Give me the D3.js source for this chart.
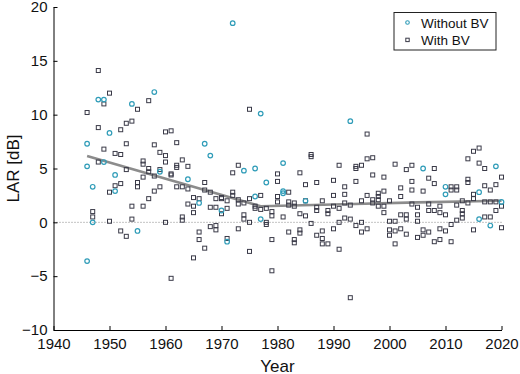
<!DOCTYPE html>
<html><head><meta charset="utf-8">
<script src="https://cdn.jsdelivr.net/npm/d3@7"></script>
<style>body{margin:0;background:#fff}svg{display:block}text{font-family:Helvetica,Arial,"Liberation Sans",sans-serif}</style>
</head><body><svg id="c" width="520" height="374"></svg>
<script>
// Without BV (circles)
const woYears = [1946,1946,1946,1947,1947,1948,1949,1949,1950,1951,1951,1954,1955,1958,1959,1964,1966,1967,1968,1970,1971,1972,1974,1976,1976,1977,1977,1978,1981,1981,1981,1985,1993,2006,2010,2010,2016,2016,2018,2019,2020];
const woValues = [7.3,5.2,-3.6,3.3,0.0,11.4,11.4,5.6,8.3,4.4,2.9,11.0,-0.8,12.1,4.7,4.0,1.8,7.3,6.2,1.1,-1.8,18.5,4.8,5.0,2.4,10.1,0.3,3.7,5.5,2.9,2.7,2.0,9.4,5.0,3.3,2.6,2.8,0.3,-0.3,5.2,1.9];
// With BV (squares)
const wYears = [1946,1947,1947,1948,1948,1948,1949,1949,1950,1950,1950,1951,1951,1952,1952,1952,1952,1953,1953,1953,1953,1954,1954,1954,1955,1955,1955,1956,1956,1956,1956,1957,1957,1957,1957,1958,1958,1958,1959,1959,1959,1960,1960,1960,1960,1961,1961,1961,1961,1962,1962,1962,1962,1963,1963,1963,1963,1964,1964,1964,1965,1965,1965,1965,1966,1966,1966,1967,1967,1967,1968,1968,1968,1969,1969,1969,1969,1970,1970,1970,1971,1971,1971,1972,1972,1972,1973,1973,1973,1973,1974,1974,1974,1975,1975,1975,1975,1976,1976,1977,1977,1978,1978,1978,1979,1979,1979,1979,1980,1980,1980,1980,1981,1982,1982,1982,1982,1983,1983,1983,1983,1984,1984,1984,1984,1985,1985,1985,1986,1986,1986,1987,1987,1987,1987,1988,1988,1988,1988,1989,1989,1989,1990,1990,1990,1990,1991,1991,1991,1991,1992,1992,1992,1992,1993,1993,1993,1994,1994,1994,1994,1995,1995,1995,1995,1996,1996,1996,1996,1997,1997,1997,1997,1998,1998,1998,1998,1999,1999,1999,1999,2000,2000,2000,2000,2001,2001,2001,2001,2002,2002,2002,2002,2003,2003,2003,2003,2004,2004,2004,2004,2005,2005,2005,2005,2006,2006,2006,2007,2007,2007,2007,2008,2008,2008,2008,2009,2009,2009,2009,2010,2010,2011,2011,2011,2011,2012,2012,2012,2012,2013,2013,2013,2013,2014,2014,2014,2014,2015,2015,2015,2015,2016,2016,2017,2017,2017,2017,2018,2018,2018,2019,2019,2019,2020,2020,2020];
const wValues = [10.2,1.0,0.5,14.1,8.8,5.6,11.0,6.8,12.0,2.8,0.1,6.4,3.4,8.6,6.3,3.6,-0.8,9.2,7.3,4.9,-1.3,9.4,1.5,0.3,10.5,3.7,3.3,5.7,5.4,4.2,1.5,11.3,5.0,4.7,2.2,7.2,4.3,2.9,6.5,4.9,3.3,8.4,6.2,5.6,0.0,8.5,4.5,4.4,-5.2,7.4,5.3,5.1,3.3,5.8,3.3,0.5,0.2,5.2,3.1,1.7,2.3,1.5,0.9,-3.3,2.2,-0.9,-1.6,3.7,3.0,-2.4,2.8,1.4,-0.4,2.2,1.4,-0.3,-0.7,2.3,2.2,0.8,2.0,1.3,-1.5,4.6,2.8,2.5,5.3,2.1,1.7,-0.6,1.8,0.7,0.3,10.5,2.2,0.0,-2.7,1.5,1.3,2.5,1.2,1.3,0.0,-0.2,1.0,0.6,-1.6,-4.5,4.5,3.8,2.4,1.9,0.5,2.8,1.9,1.6,-0.9,1.8,1.5,-1.6,-1.9,4.6,0.8,-0.7,-1.0,3.5,2.0,0.6,6.3,6.1,-0.1,3.7,1.4,1.1,-1.2,2.0,-0.8,-1.5,-2.0,1.1,0.8,-2.0,3.9,2.5,1.5,-0.6,5.3,1.3,0.0,-2.5,3.3,2.6,1.8,0.4,1.6,0.3,-7.0,5.2,5.0,3.8,-0.3,5.3,2.0,0.0,-0.9,8.2,5.9,2.5,-0.6,6.0,4.4,2.1,1.8,2.7,2.4,2.1,1.5,4.2,2.9,1.5,0.9,2.0,0.1,-0.7,-1.2,5.4,0.1,-0.8,-2.0,3.2,2.4,0.7,-0.6,4.9,0.7,0.3,-1.1,5.3,3.8,3.0,1.7,1.4,0.7,0.1,-1.4,2.9,-0.7,-1.2,4.1,1.7,1.1,-0.9,5.0,3.6,1.1,-1.8,1.5,0.9,-0.6,-1.6,0.7,-0.8,3.3,3.0,-0.2,-1.8,3.3,3.0,1.6,0.2,2.0,1.1,0.8,0.4,5.9,4.0,3.7,1.8,6.6,2.6,2.2,-0.7,6.9,5.5,5.0,3.4,1.9,0.5,3.0,1.9,0.5,3.5,1.9,1.1,4.2,1.5,-0.5];
// Trend line
const trendYears = [1946, 1977, 1990, 2005, 2020];
const trendValues = [6.15, 1.5, 1.65, 1.85, 2.0];
const xTicks = [1940,1950,1960,1970,1980,1990,2000,2010,2020];
const yTicks = [-10,-5,0,5,10,15,20];
const seriesNames = ["Without BV","With BV"];

const svg = d3.select("#c");
const x = d3.scaleLinear().domain([1940,2020]).range([53.5,501.5]);
const y = d3.scaleLinear().domain([-10,20]).range([330,7]);
const cyan = "#2f9cb8", dark = "#3a3a48";

// zero dotted line
svg.append("line").attr("x1",x(1940)).attr("x2",x(2020)).attr("y1",y(0)).attr("y2",y(0))
  .attr("stroke","#888").attr("stroke-width",1).attr("stroke-dasharray","1,2");

// trend
const trend = trendYears.map((t,i)=>[t,trendValues[i]]);
svg.append("path").datum(trend).attr("fill","none").attr("stroke","#8c8c8c").attr("stroke-width",2.6)
  .attr("d", d3.line().x(d=>x(d[0])).y(d=>y(d[1])));

// squares
const sq = wYears.map((t,i)=>[t,wValues[i]]);
svg.append("g").selectAll("rect").data(sq).join("rect")
  .attr("x",d=>x(d[0])-2).attr("y",d=>y(d[1])-2).attr("width",4).attr("height",4)
  .attr("fill","none").attr("stroke",dark).attr("stroke-width",1);
// circles
const ci = woYears.map((t,i)=>[t,woValues[i]]);
svg.append("g").selectAll("circle").data(ci).join("circle")
  .attr("cx",d=>x(d[0])).attr("cy",d=>y(d[1])).attr("r",2.3)
  .attr("fill","none").attr("stroke",cyan).attr("stroke-width",1.2);

// axes
const xa = svg.append("g").attr("transform",`translate(0,${y(-10)})`)
  .call(d3.axisBottom(x).tickValues(xTicks).tickFormat(d3.format("d")).tickSizeInner(-4).tickSizeOuter(0).tickPadding(6));
const ya = svg.append("g").attr("transform",`translate(${x(1940)},0)`)
  .call(d3.axisLeft(y).tickValues(yTicks).tickSizeInner(-4).tickSizeOuter(0).tickPadding(6));
[xa,ya].forEach(a=>{
  a.select(".domain").attr("stroke","#000").attr("stroke-width",1);
  a.selectAll(".tick line").attr("stroke","#000");
  a.selectAll("text").attr("font-size",15).attr("fill","#111").attr("font-family","Helvetica,Arial,'Liberation Sans',sans-serif");
});
xa.selectAll("text").attr("dy","0.85em");

svg.append("text").attr("x",x(1980)).attr("y",372).attr("text-anchor","middle")
  .attr("font-size",17).attr("fill","#111").text("Year");
svg.append("text").attr("transform",`translate(19,${y(5)}) rotate(-90)`).attr("text-anchor","middle")
  .attr("font-size",17).attr("fill","#111").text("LAR [dB]");

// legend
const lg = svg.append("g");
lg.append("rect").attr("x",394).attr("y",12.5).attr("width",102).attr("height",37.5)
  .attr("fill","#fff").attr("stroke","#222").attr("stroke-width",1);
lg.append("circle").attr("cx",407.5).attr("cy",22.5).attr("r",1.8).attr("fill","none").attr("stroke",cyan).attr("stroke-width",1.1);
lg.append("rect").attr("x",405.8).attr("y",38.2).attr("width",3.4).attr("height",3.4).attr("fill","none").attr("stroke",dark).attr("stroke-width",1);
lg.selectAll("text").data(seriesNames).join("text")
  .attr("x",421).attr("y",(d,i)=>27.5+i*17.5).attr("font-size",13.5).attr("fill","#111").text(d=>d);
</script></body></html>
